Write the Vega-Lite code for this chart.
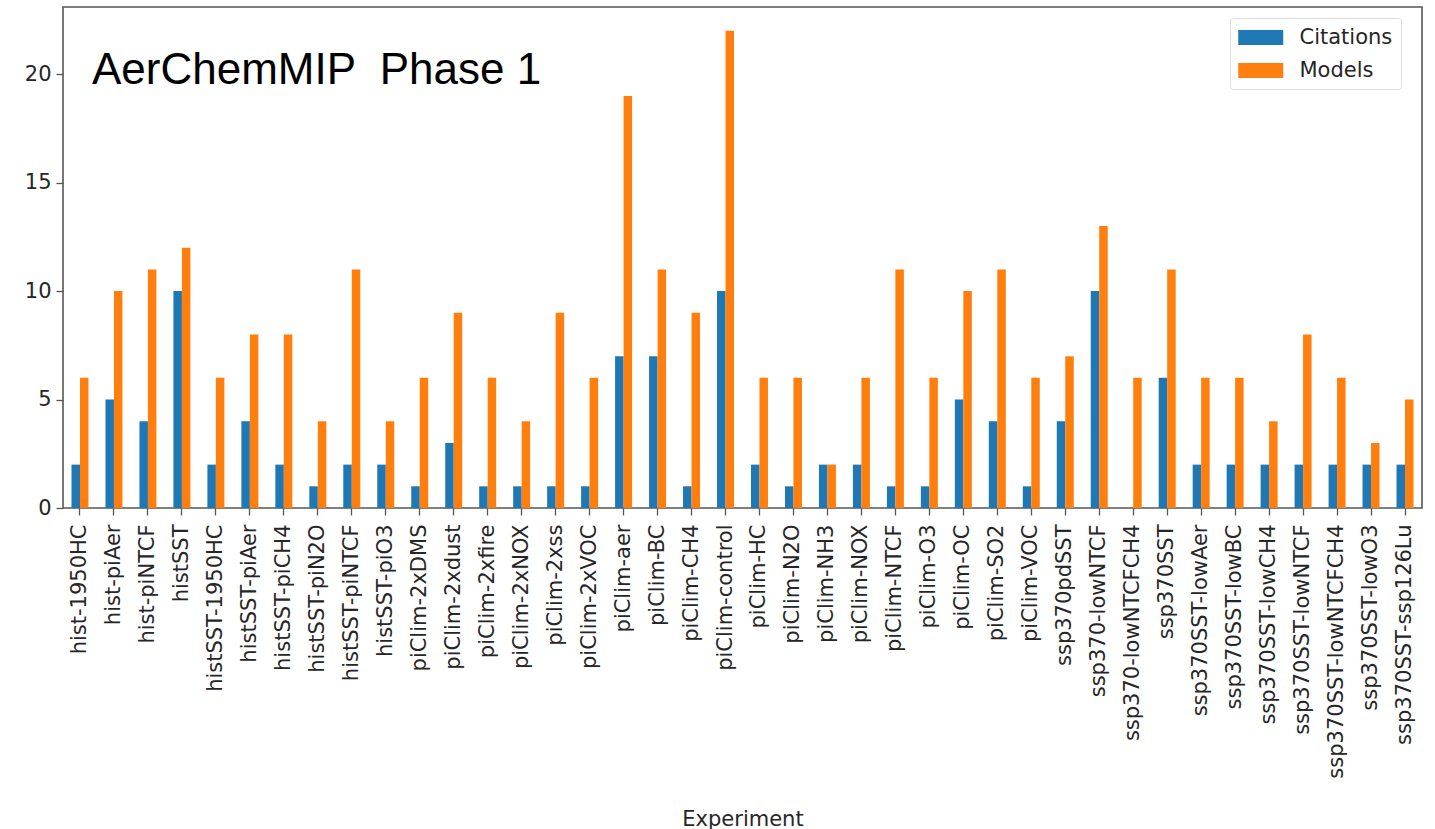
{
  "$schema": "https://vega.github.io/schema/vega-lite/v6.json",
  "autosize": "none",
  "width": 1359,
  "height": 501,
  "padding": {"left": 63, "top": 7, "right": 13, "bottom": 321},
  "background": "white",
  "config": {
    "view": {"stroke": "#555555", "strokeWidth": 1.6},
    "font": "DejaVu Sans",
    "axis": {"labelFont": "DejaVu Sans", "titleFont": "DejaVu Sans", "labelColor": "#262626", "titleColor": "#262626", "tickColor": "#555555", "tickWidth": 1.3, "domain": false, "grid": false, "titleFontWeight": "normal"}
  },
  "data": {"values": [
    {"Experiment": "hist-1950HC", "Citations": 2, "Models": 6},
    {"Experiment": "hist-piAer", "Citations": 5, "Models": 10},
    {"Experiment": "hist-piNTCF", "Citations": 4, "Models": 11},
    {"Experiment": "histSST", "Citations": 10, "Models": 12},
    {"Experiment": "histSST-1950HC", "Citations": 2, "Models": 6},
    {"Experiment": "histSST-piAer", "Citations": 4, "Models": 8},
    {"Experiment": "histSST-piCH4", "Citations": 2, "Models": 8},
    {"Experiment": "histSST-piN2O", "Citations": 1, "Models": 4},
    {"Experiment": "histSST-piNTCF", "Citations": 2, "Models": 11},
    {"Experiment": "histSST-piO3", "Citations": 2, "Models": 4},
    {"Experiment": "piClim-2xDMS", "Citations": 1, "Models": 6},
    {"Experiment": "piClim-2xdust", "Citations": 3, "Models": 9},
    {"Experiment": "piClim-2xfire", "Citations": 1, "Models": 6},
    {"Experiment": "piClim-2xNOX", "Citations": 1, "Models": 4},
    {"Experiment": "piClim-2xss", "Citations": 1, "Models": 9},
    {"Experiment": "piClim-2xVOC", "Citations": 1, "Models": 6},
    {"Experiment": "piClim-aer", "Citations": 7, "Models": 19},
    {"Experiment": "piClim-BC", "Citations": 7, "Models": 11},
    {"Experiment": "piClim-CH4", "Citations": 1, "Models": 9},
    {"Experiment": "piClim-control", "Citations": 10, "Models": 22},
    {"Experiment": "piClim-HC", "Citations": 2, "Models": 6},
    {"Experiment": "piClim-N2O", "Citations": 1, "Models": 6},
    {"Experiment": "piClim-NH3", "Citations": 2, "Models": 2},
    {"Experiment": "piClim-NOX", "Citations": 2, "Models": 6},
    {"Experiment": "piClim-NTCF", "Citations": 1, "Models": 11},
    {"Experiment": "piClim-O3", "Citations": 1, "Models": 6},
    {"Experiment": "piClim-OC", "Citations": 5, "Models": 10},
    {"Experiment": "piClim-SO2", "Citations": 4, "Models": 11},
    {"Experiment": "piClim-VOC", "Citations": 1, "Models": 6},
    {"Experiment": "ssp370pdSST", "Citations": 4, "Models": 7},
    {"Experiment": "ssp370-lowNTCF", "Citations": 10, "Models": 13},
    {"Experiment": "ssp370-lowNTCFCH4", "Citations": 0, "Models": 6},
    {"Experiment": "ssp370SST", "Citations": 6, "Models": 11},
    {"Experiment": "ssp370SST-lowAer", "Citations": 2, "Models": 6},
    {"Experiment": "ssp370SST-lowBC", "Citations": 2, "Models": 6},
    {"Experiment": "ssp370SST-lowCH4", "Citations": 2, "Models": 4},
    {"Experiment": "ssp370SST-lowNTCF", "Citations": 2, "Models": 8},
    {"Experiment": "ssp370SST-lowNTCFCH4", "Citations": 2, "Models": 6},
    {"Experiment": "ssp370SST-lowO3", "Citations": 2, "Models": 3},
    {"Experiment": "ssp370SST-ssp126Lu", "Citations": 2, "Models": 5}
  ]},
  "layer": [
    {
      "transform": [{"fold": ["Citations", "Models"], "as": ["Series", "Count"]}],
      "mark": {"type": "bar"},
      "encoding": {
        "x": {
          "field": "Experiment", "type": "nominal", "sort": null,
          "scale": {"paddingInner": 0.5, "paddingOuter": 0.25},
          "axis": {"title": "Experiment", "labelAngle": -90, "labelFontSize": 21, "titleFontSize": 21, "tickSize": 7, "labelPadding": 9, "titleY": 300, "titleBaseline": "top", "labelLimit": 400}
        },
        "xOffset": {"field": "Series", "type": "nominal", "sort": ["Citations", "Models"]},
        "y": {
          "field": "Count", "type": "quantitative",
          "scale": {"domain": [0, 23.1], "nice": false, "zero": true},
          "axis": {"title": null, "values": [0, 5, 10, 15, 20], "labelFontSize": 21, "tickSize": 7, "labelPadding": 5}
        },
        "color": {
          "field": "Series", "type": "nominal",
          "scale": {"domain": ["Citations", "Models"], "range": ["#1f77b4", "#ff7f0e"]},
          "legend": {
            "title": null, "orient": "none", "legendX": 1167, "legendY": 11,
            "symbolType": "M-1,-0.667H3V0.667H-1Z", "symbolSize": 506.25, "symbolStrokeWidth": 0,
            "labelFontSize": 21, "labelColor": "#262626", "labelFont": "DejaVu Sans",
            "rowPadding": 11, "padding": 8, "labelOffset": 38.5,
            "strokeColor": "#dddddd", "cornerRadius": 3, "fillColor": "white"
          }
        }
      }
    },
    {
      "data": {"values": [{}]},
      "mark": {"type": "text", "align": "left", "baseline": "alphabetic", "font": "Liberation Sans", "fontSize": 44, "color": "black", "dx": 12},
      "encoding": {
        "x": {"datum": "hist-1950HC", "type": "nominal"},
        "y": {"datum": 19.55, "type": "quantitative"},
        "text": {"value": "AerChemMIP \u00a0Phase 1"}
      }
    }
  ]
}
